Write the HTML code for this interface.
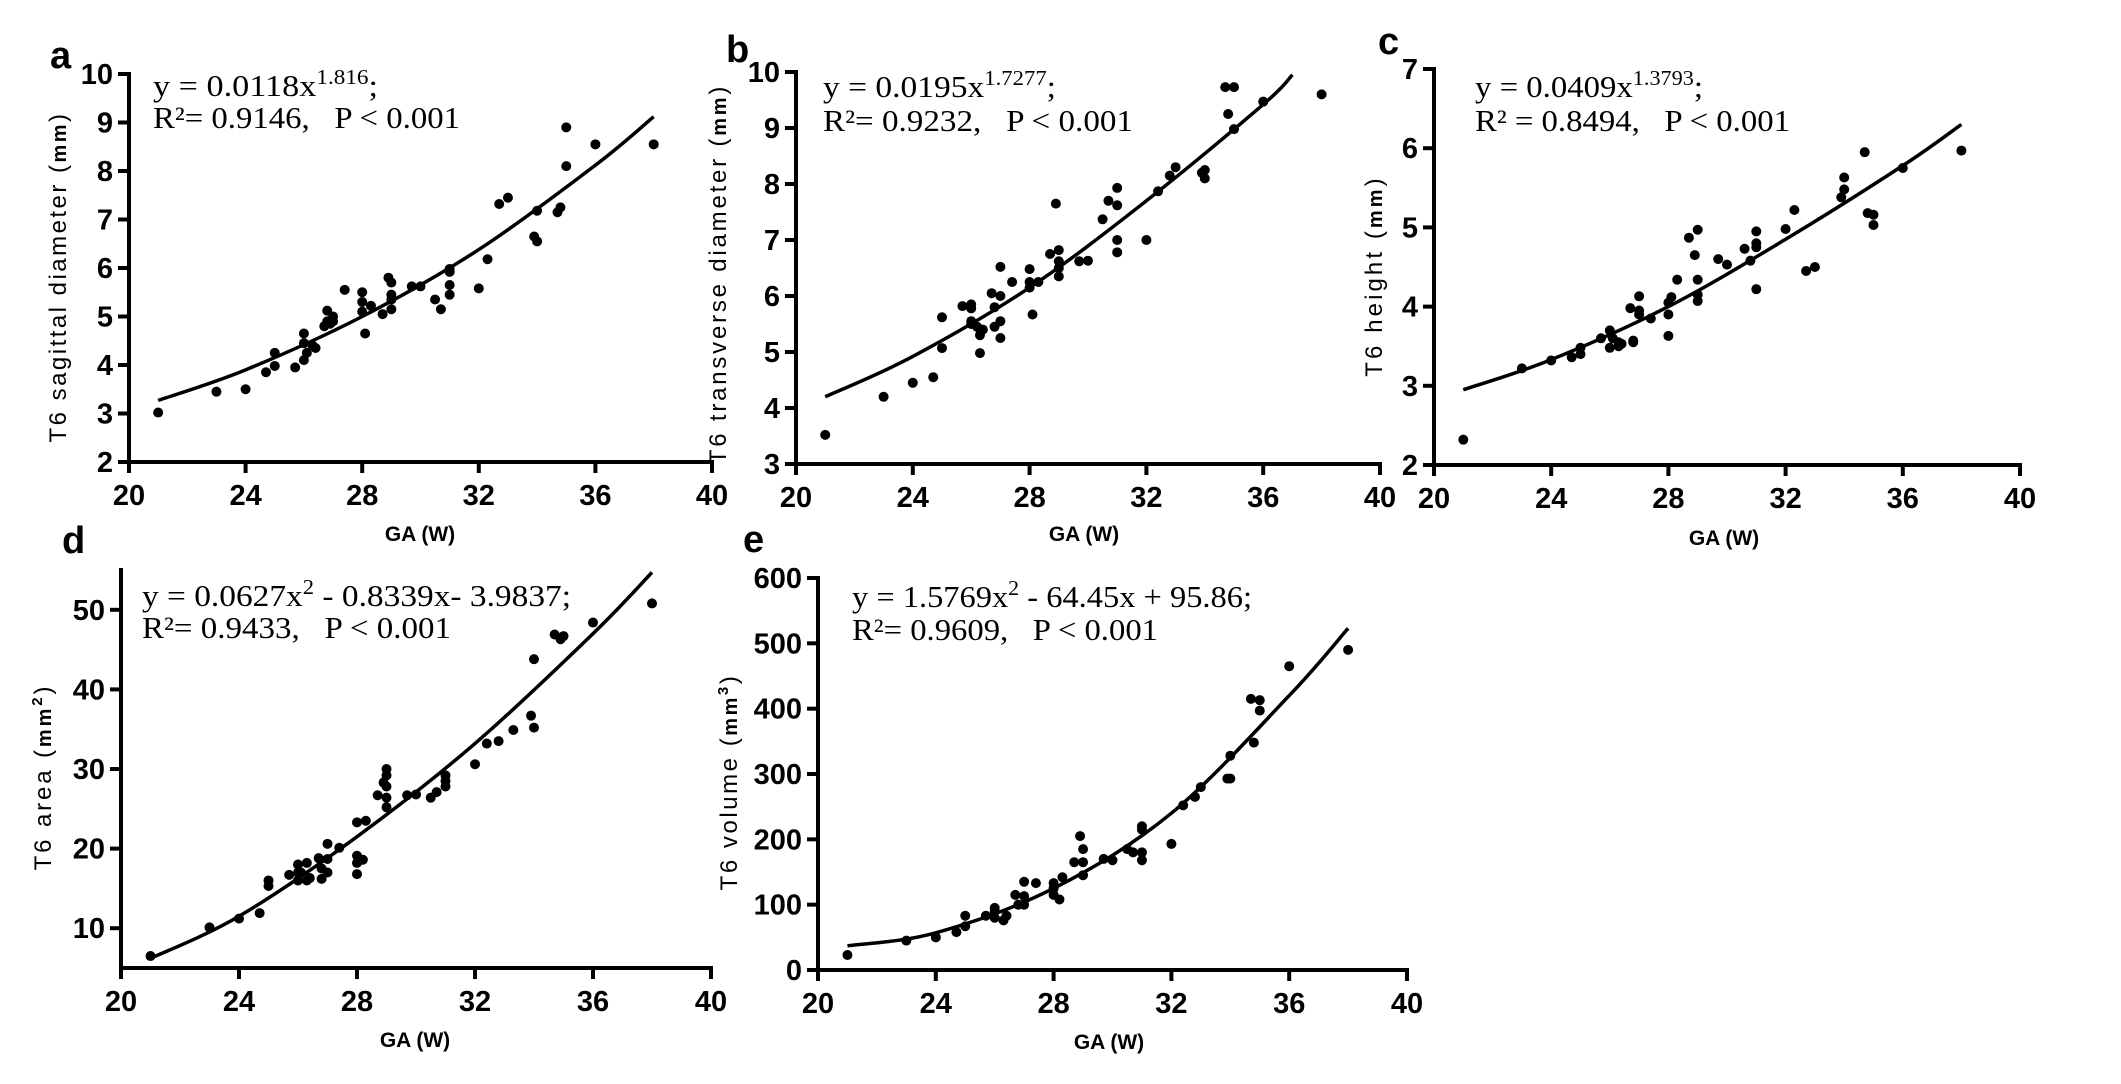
<!DOCTYPE html>
<html><head><meta charset="utf-8">
<style>
html,body{margin:0;padding:0;background:#fff;}
svg{display:block;}
.tick{font-family:"Liberation Sans Narrow","Liberation Sans",sans-serif;font-weight:bold;font-size:29px;}
.eq{font-family:"Liberation Serif",serif;font-size:31px;}
.yt{font-family:"Liberation Sans",sans-serif;font-size:24px;}
.gat{font-family:"Liberation Sans",sans-serif;font-weight:bold;font-size:21px;}
.lett{font-family:"Liberation Sans",sans-serif;font-weight:bold;font-size:38px;}
</style></head>
<body>
<svg id="fig" width="2121" height="1084" viewBox="0 0 2121 1084" xmlns="http://www.w3.org/2000/svg"></svg>
<script>
// ---- data (GA weeks, measurements) ----
const aX=[21,23,24,24.7,25,25,25.7,26,26,26,26.1,26.3,26.4,26.7,26.8,26.8,26.9,27,27,27.4,28,28,28,28.1,28.3,28.7,28.9,29,29,29,29,29.7,30,30.5,30.7,31,31,31,31,32,32.3,32.7,33,33.9,34,34,34.7,34.8,35,35,36,38];
const aY=[3.02,3.45,3.5,3.85,3.98,4.25,3.95,4.1,4.45,4.65,4.25,4.4,4.35,4.8,5.12,4.9,4.85,5.0,4.9,5.55,5.1,5.3,5.5,4.65,5.22,5.05,5.8,5.7,5.45,5.15,5.35,5.62,5.62,5.35,5.15,5.45,5.65,5.92,5.98,5.58,6.18,7.32,7.45,6.65,6.55,7.18,7.15,7.25,8.1,8.9,8.55,8.55];
const aCurveX=[21,24,28,32,36,38];
const aCurveY=[3.27,3.9,5.0,6.38,8.12,9.12];

const bX=[21,23,24,24.7,25,25,25.7,26,26,26,26,26.2,26.3,26.3,26.4,26.7,26.8,26.8,27,27,27,27,27.4,28,28,28,28.1,28.3,28.7,28.9,29,29,29,29,29.7,30,30.5,30.7,31,31,31,31,32,32.4,32.8,33,33.9,34,34,34.7,34.8,35,35,36,38];
const bY=[3.52,4.2,4.45,4.55,5.07,5.62,5.82,5.85,5.78,5.55,5.5,5.45,5.3,4.98,5.4,6.05,5.8,5.45,5.55,5.25,6.0,6.52,6.25,6.48,6.25,6.15,5.67,6.25,6.75,7.65,6.82,6.62,6.5,6.35,6.62,6.63,7.37,7.7,7.93,7.62,7.0,6.78,7.0,7.87,8.15,8.3,8.2,8.25,8.1,9.73,9.25,9.73,8.98,9.47,9.6];
const bCurveX=[21,24,28,32,36,37];
const bCurveY=[4.2,4.92,6.15,7.7,9.42,9.95];

const cX=[21,23,24,24.7,25,25,25.7,26,26,26.1,26.3,26.3,26.4,26.7,26.8,26.8,27,27,27,27.4,28,28,28,28.1,28.3,28.7,28.9,29,29,29,29,29.7,30,30.6,30.8,31,31,31,31,32,32.3,32.7,33,33.9,34,34,34.7,34.8,35,35,36,38];
const cY=[2.32,3.22,3.32,3.36,3.4,3.48,3.6,3.7,3.48,3.6,3.55,3.5,3.53,3.98,3.55,3.57,3.95,4.13,3.9,3.85,3.63,3.9,4.05,4.12,4.34,4.87,4.65,4.97,4.34,4.15,4.07,4.6,4.53,4.73,4.58,4.95,4.8,4.75,4.22,4.98,5.22,4.45,4.5,5.38,5.48,5.63,5.95,5.18,5.16,5.03,5.75,5.97];
const cCurveX=[21,24,28,32,36,38];
const cCurveY=[2.95,3.33,4.0,4.85,5.78,6.3];

const dX=[21,23,24,24.7,25,25,25.7,26,26,26,26.1,26.3,26.3,26.4,26.7,26.8,26.8,27,27,27,27.4,28,28,28,28,28.2,28.3,28.7,28.9,29,29,29,29,29,29.7,30,30.5,30.7,31,31,31,32,32.4,32.8,33.3,33.9,34,34,34.7,34.9,35,36,38];
const dY=[6.5,10.1,11.2,11.9,15.3,16.0,16.7,16.0,17.0,18.0,17.0,18.2,16.0,16.3,18.8,17.5,16.2,17.0,18.7,20.6,20.1,23.3,19.1,18.2,16.8,18.6,23.5,26.7,28.3,30.0,29.2,27.8,26.4,25.2,26.7,26.8,26.4,27.1,29.2,28.5,27.8,30.6,33.2,33.5,34.9,36.7,35.2,43.8,46.9,46.3,46.7,48.4,50.8];
const dCurveX=[21,24,28,32,36,38];
const dCurveY=[6.2,11.5,21.5,33.2,47.0,54.7];

const eX=[21,23,24,24.7,25,25,25.7,26,26,26,26.3,26.4,26.7,26.8,27,27,27,27.4,28,28,28,28.2,28.3,28.7,28.9,29,29,29,29.7,30,30.5,30.7,31,31,31,31,32,32.4,32.8,33,33.9,34,34,34.7,34.8,35,35,36,38];
const eY=[23,45,50,58,67,83,83,80,90,95,76,83,115,100,100,113,135,133,133,125,115,108,142,165,205,185,165,145,170,168,185,180,220,215,180,168,193,252,265,280,293,293,328,415,348,413,397,465,490];
const eCurveX=[21,24,28,32,36,38];
const eCurveY=[37,57,125,240,420,523];

const aTicks=[2,3,4,5,6,7,8,9,10];
const bTicks=[3,4,5,6,7,8,9,10];
const cTicks=[2,3,4,5,6,7];
const dTicks=[10,20,30,40,50];
const eTicks=[0,100,200,300,400,500,600];
const xTicks=[20,24,28,32,36,40];

const NS="http://www.w3.org/2000/svg";
const svg=document.getElementById('fig');
function mk(tag,attrs,parent){const e=document.createElementNS(NS,tag);for(const k in attrs)e.setAttribute(k,attrs[k]);(parent||svg).appendChild(e);return e;}

const panels=[
 {id:'a',xs:aX,ys:aY,cx:aCurveX,cy:aCurveY,ticks:aTicks,ymin:2,ymax:10,x0:129,x1:712,yT:74,yB:462,axTop:74,lab:'a',lx:50,ly:68,
  eqx:153,eq1:96,eq2:128,l1:225,l2:307,coef:'0.0118x',sup:'1.816',eqType:'pow',rtext:'R²= 0.9146,   P < 0.001',
  yt:'T6 sagittal diameter',unit:'mm',usup:'',ytx:58,ytc:277,ytl:372,gax:420,gay:541},
 {id:'b',xs:bX,ys:bY,cx:bCurveX,cy:bCurveY,ticks:bTicks,ymin:3,ymax:10,x0:796,x1:1380,yT:72,yB:464,axTop:72,lab:'b',lx:726,ly:62,
  eqx:823,eq1:97,eq2:131,l1:233,l2:310,coef:'0.0195x',sup:'1.7277',eqType:'pow',rtext:'R²= 0.9232,   P < 0.001',
  yt:'T6 transverse diameter',unit:'mm',usup:'',ytx:718,ytc:274,ytl:410,gax:1084,gay:541},
 {id:'c',xs:cX,ys:cY,cx:cCurveX,cy:cCurveY,ticks:cTicks,ymin:2,ymax:7,x0:1434,x1:2020,yT:69,yB:465,axTop:69,lab:'c',lx:1378,ly:54,
  eqx:1475,eq1:97,eq2:131,l1:228,l2:315,coef:'0.0409x',sup:'1.3793',eqType:'pow',rtext:'R² = 0.8494,   P < 0.001',
  yt:'T6 height',unit:'mm',usup:'',ytx:1374,ytc:276,ytl:215,gax:1724,gay:545},
 {id:'d',xs:dX,ys:dY,cx:dCurveX,cy:dCurveY,ticks:dTicks,ymin:5,ymax:55,x0:121,x1:711,yT:570,yB:968,axTop:570,lab:'d',lx:62,ly:553,
  eqx:142,eq1:606,eq2:638,l1:429,l2:309,eqType:'quad',q1:'y = 0.0627x',q2:' - 0.8339x- 3.9837;',rtext:'R²= 0.9433,   P < 0.001',
  yt:'T6 area',unit:'mm',usup:'2',ytx:43,ytc:777,ytl:197,gax:415,gay:1047},
 {id:'e',xs:eX,ys:eY,cx:eCurveX,cy:eCurveY,ticks:eTicks,ymin:0,ymax:600,x0:818,x1:1407,yT:578,yB:970,axTop:578,lab:'e',lx:743,ly:552,
  eqx:852,eq1:607,eq2:640,l1:400,l2:306,eqType:'quad',q1:'y = 1.5769x',q2:' - 64.45x + 95.86;',rtext:'R²= 0.9609,   P < 0.001',
  yt:'T6 volume',unit:'mm',usup:'3',ytx:729,ytc:782,ytl:223,gax:1109,gay:1049}
];

panels.forEach(p=>{
  const g=mk('g',{});
  
  
  const sx=v=>p.x0+(v-20)/20*(p.x1-p.x0);
  const sy=v=>p.yB-(v-p.ymin)/(p.ymax-p.ymin)*(p.yB-p.yT);
  const ya=mk('line',{x1:p.x0,y1:p.axTop-2,x2:p.x0,y2:p.yB+2,stroke:'#000','stroke-width':4},g);
  
  
  const xa=mk('line',{x1:p.x0-2,y1:p.yB,x2:p.x1+2,y2:p.yB,stroke:'#000','stroke-width':4},g);
  
  
  p.ticks.forEach(t=>{
    const y=sy(t);
    const tl=mk('line',{x1:p.x0-11,y1:y,x2:p.x0,y2:y,stroke:'#000','stroke-width':4},g);
    
    
    const tx=mk('text',{x:p.x0-16,y:y+10,'text-anchor':'end',class:'tick'},g);
    
    
    tx.textContent=t;
  });
  xTicks.forEach(t=>{
    const x=sx(t);
    const tl=mk('line',{x1:x,y1:p.yB,x2:x,y2:p.yB+11,stroke:'#000','stroke-width':4},g);
    
    
    const tx=mk('text',{x:x,y:p.yB+43,'text-anchor':'middle',class:'tick'},g);
    
    
    tx.textContent=t;
  });
  const pts=p.cx.map((v,i)=>[sx(v),sy(p.cy[i])]);
  let d='M'+pts[0][0]+','+pts[0][1];
  for(let i=0;i<pts.length-1;i++){
    const p0=pts[Math.max(0,i-1)],p1=pts[i],p2=pts[i+1],p3=pts[Math.min(pts.length-1,i+2)];
    const c1=[p1[0]+(p2[0]-p0[0])/6,p1[1]+(p2[1]-p0[1])/6];
    const c2=[p2[0]-(p3[0]-p1[0])/6,p2[1]-(p3[1]-p1[1])/6];
    d+=' C'+c1[0]+','+c1[1]+' '+c2[0]+','+c2[1]+' '+p2[0]+','+p2[1];
  }
  const cv=mk('path',{d:d,fill:'none',stroke:'#000','stroke-width':3.5},g);
  
  
  p.xs.forEach((v,i)=>{
    const c=mk('circle',{cx:sx(v),cy:sy(p.ys[i]),r:5,fill:'#000'},g);
    
    
  });
  const L=mk('text',{x:p.lx,y:p.ly,class:'lett'},g);
  
  
  L.textContent=p.lab;
  const e1=mk('text',{x:p.eqx,y:p.eq1,class:'eq',textLength:p.l1,lengthAdjust:'spacingAndGlyphs'},g);
  
  
  if(p.eqType==='pow'){
    e1.innerHTML='y = '+p.coef+'<tspan dy="-12" font-size="21">'+p.sup+'</tspan><tspan dy="12">;</tspan>';
  }else{
    e1.innerHTML=p.q1+'<tspan dy="-12" font-size="21">2</tspan><tspan dy="12">'+p.q2+'</tspan>';
  }
  const e2=mk('text',{x:p.eqx,y:p.eq2,class:'eq',textLength:p.l2,lengthAdjust:'spacingAndGlyphs'},g);
  
  
  e2.setAttribute('style','white-space:pre');
  e2.textContent=p.rtext;
  // y title: letters spaced evenly along the axis
  const full=p.yt+' ('+p.unit+p.usup+')';
  const n=full.length;
  const ls=Math.max(0,(p.ytl-n*12.5)/(n-1));
  const yt=mk('text',{x:0,y:0,class:'yt','text-anchor':'middle',transform:'translate('+(p.ytx+8)+','+p.ytc+') rotate(-90)'},g);
  
  
  yt.setAttribute('style','white-space:pre;letter-spacing:'+ls.toFixed(2)+'px');
  yt.innerHTML=p.yt+' (<tspan font-weight="bold" font-size="20">'+p.unit+'</tspan>'+(p.usup?'<tspan font-weight="bold" font-size="15" dy="-9">'+p.usup+'</tspan><tspan dy="9">)</tspan>':')');
  const xt=mk('text',{x:p.gax,y:p.gay,'text-anchor':'middle',class:'gat'},g);
  
  
  xt.textContent='GA (W)';
});
</script>
</body></html>
